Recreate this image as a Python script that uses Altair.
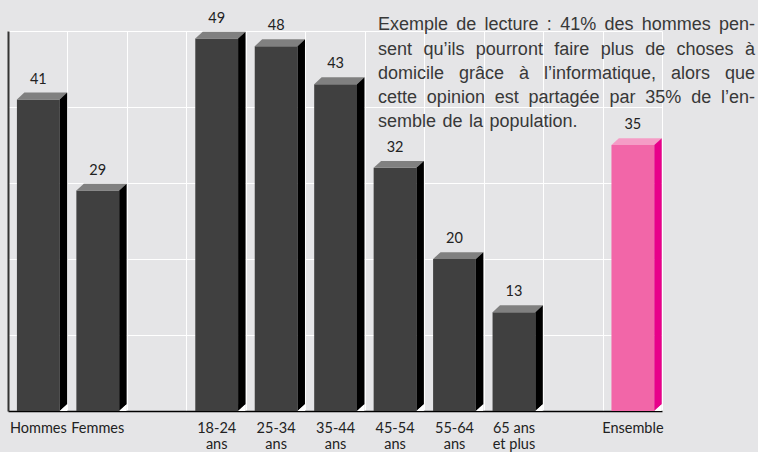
import altair as alt
import pandas as pd

# ---------------- data ----------------
categories = ["Hommes", "Femmes", "18-24\nans", "25-34\nans", "35-44\nans",
              "45-54\nans", "55-64\nans", "65 ans\net plus", "Ensemble"]
values = [41, 29, 49, 48, 43, 32, 20, 13, 35]
groups = ["Sexe", "Sexe", "Âge", "Âge", "Âge", "Âge", "Âge", "Âge", "Ensemble"]
# category order along the axis; empty names are spacer slots
slot_order = ["Hommes", "Femmes", "", "18-24\nans", "25-34\nans", "35-44\nans",
              "45-54\nans", "55-64\nans", "65 ans\net plus", " ", "Ensemble"]

note_lines = [
    "Exemple de lecture : 41% des hommes pen-",
    "sent qu’ils pourront faire plus de choses à",
    "domicile grâce à l’informatique, alors que",
    "cette opinion est partagée par 35% de l’en-",
    "semble de la population.",
]

# ---------------- styling ----------------
BG = "#e5e5e7"
PALETTE = {
    "Sexe": {"front": "#404040", "top": "#808080", "side": "#000000"},
    "Âge": {"front": "#404040", "top": "#808080", "side": "#000000"},
    "Ensemble": {"front": "#f266a8", "top": "#f59cc6", "side": "#e8008a"},
}
PLOT_W, PLOT_H = 654, 380
N_SLOTS = len(slot_order)
Y_MAX = 50
L, R = 0.15, 0.87      # front face extent within a slot
D, DY = 0.125, 0.9     # 3D depth (x in slot units, y in value units)
LABEL_FONT = "Lato, Roboto, Liberation Sans, sans-serif"
LABEL_SIZE = 14.5
NOTE_FONT = "Liberation Sans, Arial, sans-serif"
NOTE_SIZE = 18

# ---------------- build tables ----------------
front, top, side, tri = [], [], [], []
for i, (cat, v, g) in enumerate(zip(categories, values, groups)):
    s = slot_order.index(cat)
    x0, x1 = s + L, s + R
    p = PALETTE[g]
    front.append({"bar": i, "cat": cat, "v": v, "x0": x0, "x1": x1,
                  "xc": (x0 + x1) / 2, "c": p["front"], "ytop": v + DY})
    top += [{"bar": i, "y": v, "xa": x0, "xb": x1, "c": p["top"]},
            {"bar": i, "y": v + DY, "xa": x0 + D, "xb": x1 + D, "c": p["top"]}]
    side += [{"bar": i, "x": x1, "ya": 0, "yb": v, "c": p["side"]},
             {"bar": i, "x": x1 + D, "ya": DY, "yb": v + DY, "c": p["side"]}]
    tri += [{"bar": i, "x": x1, "ya": 0, "yb": 0},
            {"bar": i, "x": x1 + D, "ya": 0, "yb": DY}]
front_df, top_df, side_df, tri_df = map(pd.DataFrame, (front, top, side, tri))

# justified note text (Arial / Liberation Sans advance widths, per 1000 em)
W = {" ": 278, "a": 556, "b": 556, "c": 500, "d": 556, "e": 556, "f": 278, "g": 556,
     "h": 556, "i": 222, "j": 222, "k": 500, "l": 222, "m": 833, "n": 556, "o": 556,
     "p": 556, "q": 556, "r": 333, "s": 500, "t": 278, "u": 556, "v": 500, "w": 722,
     "x": 500, "y": 500, "z": 500, "E": 667, ":": 278, "%": 889, ",": 278, ".": 278,
     "-": 333, "’": 222, "à": 556, "â": 556, "é": 556}
def width(word):
    return sum(W.get(ch, 556) for ch in word) * NOTE_SIZE / 1000

NOTE_X0, NOTE_X1 = 370, 747        # px, relative to plot left edge
NOTE_Y0, NOTE_LH = -0.7, 24.2      # px, baseline of first line relative to plot top
words = []
for li, line in enumerate(note_lines):
    ws = line.split(" ")
    widths = [width(w) for w in ws]
    last = li == len(note_lines) - 1
    gap = width(" ") * 1.3 if last else (NOTE_X1 - NOTE_X0 - sum(widths)) / (len(ws) - 1)
    x = NOTE_X0
    for w, wd in zip(ws, widths):
        py = NOTE_Y0 + li * NOTE_LH
        words.append({"w": w, "xu": x / PLOT_W * N_SLOTS,
                      "yu": Y_MAX - py / PLOT_H * Y_MAX})
        x += wd + gap
words_df = pd.DataFrame(words)

# ---------------- chart ----------------
xs = alt.Scale(domain=[0, N_SLOTS], nice=False, zero=False)
ys = alt.Scale(domain=[0, Y_MAX], nice=False, zero=True)
xax = alt.Axis(values=list(range(N_SLOTS + 1)), grid=True, gridColor="white",
               gridWidth=1, gridOpacity=1, labels=False, ticks=False, domain=True,
               domainColor="#000000", domainWidth=1.5, title=None)
yax = alt.Axis(values=list(range(0, Y_MAX + 1, 10)), grid=True, gridColor="white",
               gridWidth=1, gridOpacity=1, labels=False, ticks=False, domain=True,
               domainColor="#333333", domainWidth=2, title=None)

fronts = alt.Chart(front_df).mark_rect().encode(
    x=alt.X("x0:Q", scale=xs, axis=xax, title=None), x2="x1",
    y=alt.Y("v:Q", scale=ys, axis=yax, title=None), y2=alt.datum(0),
    color=alt.Color("c:N", scale=None),
)
tops = alt.Chart(top_df).mark_area(orient="horizontal").encode(
    y=alt.Y("y:Q", scale=ys, axis=yax, title=None),
    x=alt.X("xa:Q", scale=xs, axis=xax, title=None), x2="xb",
    detail="bar:N", color=alt.Color("c:N", scale=None),
)
sides = alt.Chart(side_df).mark_area(orient="vertical").encode(
    x=alt.X("x:Q", scale=xs, axis=xax, title=None),
    y=alt.Y("ya:Q", scale=ys, axis=yax, title=None), y2="yb",
    detail="bar:N", color=alt.Color("c:N", scale=None),
)
tris = alt.Chart(tri_df).mark_area(orient="vertical", color="white").encode(
    x=alt.X("x:Q", scale=xs, axis=xax, title=None),
    y=alt.Y("ya:Q", scale=ys, axis=yax, title=None), y2="yb",
    detail="bar:N",
)
vlabels = alt.Chart(front_df).mark_text(
    baseline="alphabetic", dy=-9, fontSize=LABEL_SIZE, font=LABEL_FONT, color="#222222"
).encode(
    x=alt.X("xc:Q", scale=xs, axis=xax, title=None),
    y=alt.Y("ytop:Q", scale=ys, axis=yax, title=None),
    text="v:Q",
)
xlabels = alt.Chart(front_df).mark_text(
    baseline="alphabetic", dy=21.5, fontSize=LABEL_SIZE, font=LABEL_FONT, color="#222222",
    lineBreak="\n", lineHeight=16.5,
).encode(
    x=alt.X("xc:Q", scale=xs, axis=xax, title=None),
    y=alt.Y("zero:Q", scale=ys, axis=yax, title=None),
    text="cat:N",
).transform_calculate(zero="0")
note = alt.Chart(words_df).mark_text(
    align="left", baseline="alphabetic", fontSize=NOTE_SIZE, font=NOTE_FONT,
    color="#383838",
).encode(
    x=alt.X("xu:Q", scale=xs, axis=xax, title=None),
    y=alt.Y("yu:Q", scale=ys, axis=yax, title=None),
    text="w:N",
)

chart = alt.layer(fronts, tops, sides, tris, vlabels, xlabels, note).properties(
    width=PLOT_W, height=PLOT_H,
    padding={"left": 8, "top": 31, "right": 96, "bottom": 41},
    autosize=alt.AutoSizeParams(type="none"),
    background=BG,
).configure_view(stroke=None, fill=BG)

chart.save("out.html", embed_options={"renderer": "svg", "actions": False})
